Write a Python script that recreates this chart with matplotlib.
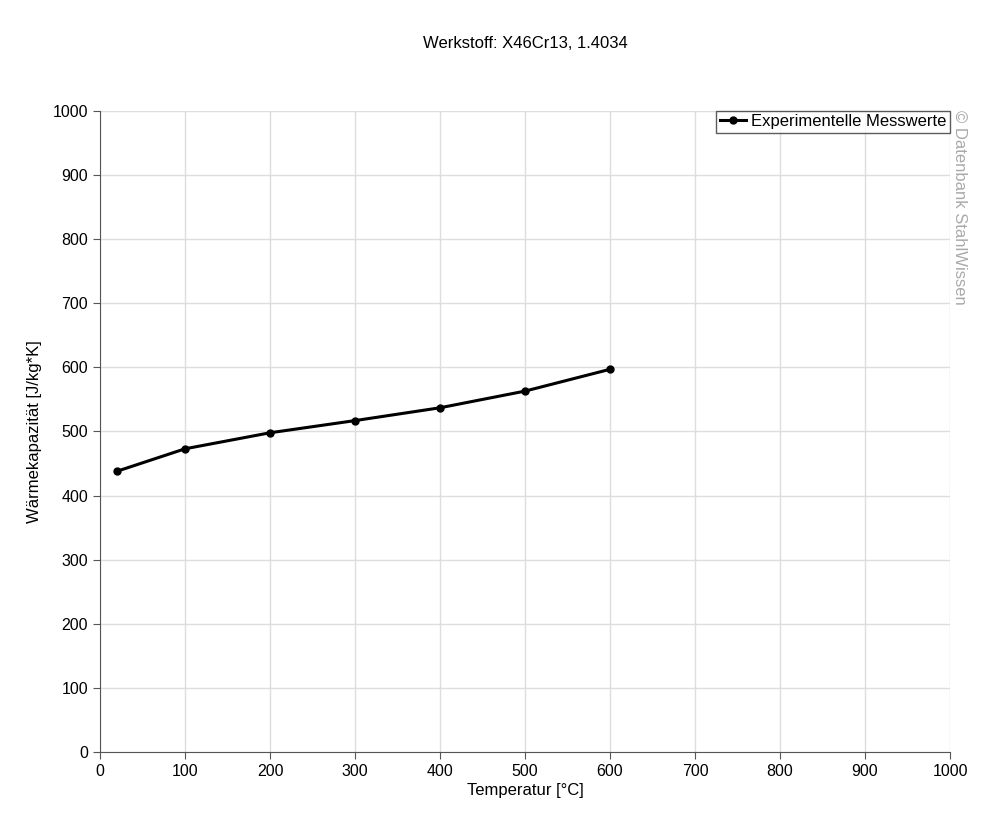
import matplotlib
matplotlib.use("Agg")
import matplotlib.pyplot as plt

plt.rcParams['font.family'] = ['Liberation Sans', 'DejaVu Sans']

temperatur = [20, 100, 200, 300, 400, 500, 600]
waermekapazitaet = [438, 473, 498, 517, 537, 563, 597]

x_ticks = list(range(0, 1001, 100))
y_ticks = list(range(0, 1001, 100))

fig = plt.figure(figsize=(10, 8.31), dpi=100)
ax = fig.add_axes([0.1, 0.095, 0.85, 0.7715])

ax.plot(temperatur, waermekapazitaet, color='black', lw=2.2, marker='o', ms=5,
        label='Experimentelle Messwerte', zorder=3)

ax.set_xlim(0, 1000)
ax.set_ylim(0, 1000)
ax.set_xticks(x_ticks)
ax.set_yticks(y_ticks)
ax.grid(True, color='#dddddd', lw=1)
ax.set_axisbelow(True)
for s in ['top', 'right']:
    ax.spines[s].set_visible(False)
for s in ['left', 'bottom']:
    ax.spines[s].set_color('#555555')
ax.tick_params(labelsize=11.5, color='#555555', length=5)

ax.set_xlabel('Temperatur [°C]', fontsize=12, labelpad=3)
ax.set_ylabel('Wärmekapazität [J/kg*K]', fontsize=12, labelpad=8)
fig.text(0.525, 0.948, 'Werkstoff: X46Cr13, 1.4034', ha='center', va='center', fontsize=12)

leg = ax.legend(loc='upper right', bbox_to_anchor=(1.0, 1.0), fontsize=12, frameon=True,
                fancybox=False, handlelength=1.6, handletextpad=0.3, borderpad=0.2,
                borderaxespad=0.0)
leg.get_frame().set_edgecolor('#333333')
leg.get_frame().set_linewidth(1)

fig.text(0.96, 0.751, '© Datenbank StahlWissen', rotation=270, ha='center', va='center',
         fontsize=12, color='#aaaaaa')

fig.savefig('out.png', dpi=100)
